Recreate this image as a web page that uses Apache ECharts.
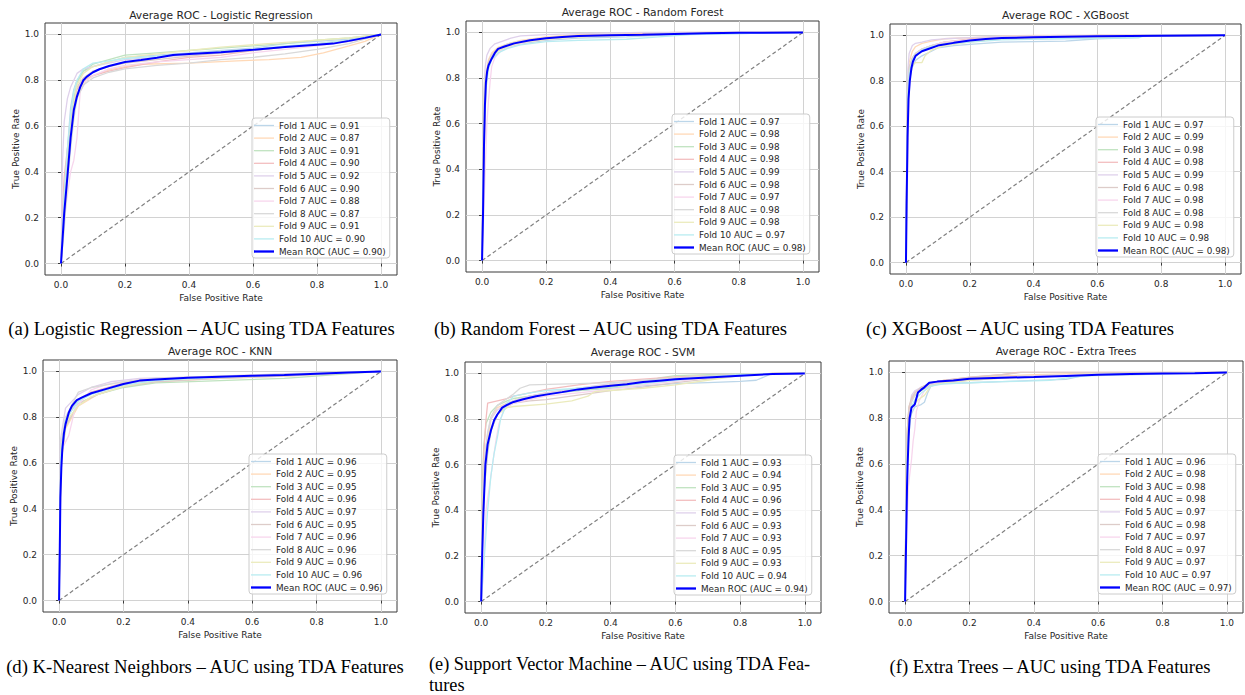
<!DOCTYPE html>
<html><head><meta charset="utf-8">
<script src="https://cdn.jsdelivr.net/npm/echarts@6/dist/echarts.min.js"></script>
<style>html,body{margin:0;padding:0;background:#fff;}#c{width:1245px;height:695px;}</style>
</head><body><div id="c"></div>
<script>
// ---------------- DATA ----------------
const panelTitles = ['Average ROC - Logistic Regression','Average ROC - Random Forest','Average ROC - XGBoost','Average ROC - KNN','Average ROC - SVM','Average ROC - Extra Trees'];
const captions = ['(a) Logistic Regression – AUC using TDA Features','(b) Random Forest – AUC using TDA Features','(c) XGBoost – AUC using TDA Features','(d) K-Nearest Neighbors – AUC using TDA Features','(e) Support Vector Machine – AUC using TDA Fea-','(f) Extra Trees – AUC using TDA Features'];
const captionExtra = 'tures';
const tickValues = [0, 0.2, 0.4, 0.6, 0.8, 1.0];
const xAxisName = 'False Positive Rate';
const yAxisName = 'True Positive Rate';

const lrAuc = [0.91,0.87,0.91,0.90,0.92,0.90,0.88,0.87,0.91,0.90];
const rfAuc = [0.97,0.98,0.98,0.98,0.99,0.98,0.97,0.98,0.98,0.97];
const xgbAuc = [0.97,0.99,0.98,0.98,0.99,0.98,0.98,0.98,0.98,0.98];
const knnAuc = [0.96,0.95,0.95,0.96,0.97,0.95,0.96,0.96,0.96,0.96];
const svmAuc = [0.93,0.94,0.95,0.96,0.95,0.93,0.93,0.95,0.93,0.94];
const etAuc = [0.96,0.98,0.98,0.98,0.97,0.98,0.97,0.97,0.97,0.97];
const meanAuc = [0.90,0.98,0.98,0.96,0.94,0.97];

const lrFolds = [
 [[0,0],[0.005,0.1],[0.01,0.3],[0.02,0.5],[0.03,0.68],[0.04,0.76],[0.05,0.8],[0.07,0.84],[0.1,0.86],[0.15,0.88],[0.2,0.9],[0.3,0.91],[0.4,0.92],[0.5,0.93],[0.6,0.94],[0.7,0.96],[0.8,0.97],[0.9,0.98],[1,1]],
 [[0,0],[0.01,0.2],[0.02,0.4],[0.03,0.55],[0.04,0.68],[0.05,0.74],[0.07,0.79],[0.1,0.82],[0.15,0.845],[0.2,0.86],[0.25,0.87],[0.4,0.875],[0.55,0.885],[0.65,0.89],[0.75,0.9],[0.82,0.92],[0.9,0.95],[0.95,0.97],[1,1]],
 [[0,0],[0.01,0.25],[0.02,0.45],[0.03,0.6],[0.04,0.72],[0.05,0.79],[0.07,0.84],[0.1,0.87],[0.15,0.89],[0.2,0.91],[0.3,0.92],[0.4,0.93],[0.5,0.94],[0.6,0.95],[0.7,0.96],[0.8,0.975],[0.9,0.985],[1,1]],
 [[0,0],[0.005,0.25],[0.01,0.38],[0.02,0.5],[0.03,0.6],[0.04,0.7],[0.05,0.76],[0.07,0.8],[0.1,0.82],[0.15,0.84],[0.2,0.855],[0.3,0.88],[0.4,0.9],[0.5,0.91],[0.6,0.93],[0.7,0.945],[0.8,0.955],[0.9,0.97],[1,1]],
 [[0,0],[0.003,0.3],[0.005,0.45],[0.01,0.62],[0.02,0.72],[0.03,0.77],[0.04,0.8],[0.05,0.83],[0.07,0.85],[0.1,0.86],[0.15,0.875],[0.2,0.89],[0.3,0.9],[0.4,0.91],[0.5,0.92],[0.6,0.935],[0.7,0.945],[0.8,0.955],[0.9,0.97],[1,1]],
 [[0,0],[0.01,0.3],[0.02,0.45],[0.03,0.6],[0.04,0.7],[0.05,0.77],[0.07,0.81],[0.1,0.84],[0.15,0.86],[0.2,0.875],[0.3,0.89],[0.4,0.905],[0.5,0.92],[0.6,0.93],[0.7,0.945],[0.8,0.96],[0.9,0.975],[1,1]],
 [[0,0],[0.01,0.2],[0.02,0.3],[0.03,0.4],[0.04,0.45],[0.05,0.55],[0.055,0.65],[0.06,0.75],[0.08,0.8],[0.1,0.82],[0.15,0.85],[0.2,0.865],[0.3,0.88],[0.4,0.89],[0.5,0.9],[0.6,0.92],[0.7,0.935],[0.8,0.95],[0.9,0.97],[1,1]],
 [[0,0],[0.01,0.15],[0.02,0.35],[0.03,0.5],[0.04,0.63],[0.05,0.72],[0.07,0.78],[0.1,0.81],[0.15,0.835],[0.2,0.85],[0.3,0.865],[0.4,0.875],[0.5,0.89],[0.6,0.9],[0.7,0.915],[0.8,0.935],[0.9,0.96],[1,1]],
 [[0,0],[0.01,0.25],[0.02,0.42],[0.03,0.58],[0.04,0.7],[0.05,0.78],[0.07,0.83],[0.1,0.86],[0.15,0.88],[0.2,0.9],[0.3,0.915],[0.4,0.93],[0.5,0.945],[0.6,0.955],[0.7,0.965],[0.8,0.975],[0.9,0.985],[1,1]],
 [[0,0],[0.01,0.3],[0.02,0.5],[0.03,0.65],[0.04,0.75],[0.05,0.8],[0.07,0.85],[0.1,0.875],[0.15,0.885],[0.2,0.895],[0.3,0.905],[0.4,0.915],[0.5,0.925],[0.6,0.935],[0.7,0.95],[0.8,0.96],[0.9,0.975],[1,1]]
];
const lrMean = [[0,0],[0.01,0.22],[0.02,0.38],[0.03,0.55],[0.04,0.67],[0.05,0.73],[0.06,0.77],[0.07,0.8],[0.08,0.815],[0.1,0.835],[0.12,0.848],[0.15,0.862],[0.2,0.88],[0.25,0.888],[0.3,0.898],[0.35,0.91],[0.4,0.915],[0.5,0.922],[0.6,0.933],[0.7,0.945],[0.8,0.955],[0.85,0.96],[0.9,0.972],[0.95,0.985],[1,1]];

const rfFolds = [
 [[0,0],[0.003,0.3],[0.006,0.6],[0.01,0.75],[0.015,0.83],[0.02,0.87],[0.03,0.9],[0.05,0.92],[0.08,0.935],[0.12,0.95],[0.2,0.965],[0.3,0.975],[0.45,0.98],[0.6,0.99],[0.8,0.995],[1,1]],
 [[0,0],[0.003,0.4],[0.007,0.7],[0.012,0.82],[0.02,0.88],[0.03,0.91],[0.05,0.935],[0.08,0.95],[0.12,0.965],[0.2,0.98],[0.3,0.99],[0.5,0.995],[0.7,1],[1,1]],
 [[0,0],[0.004,0.45],[0.008,0.72],[0.012,0.8],[0.02,0.86],[0.03,0.89],[0.05,0.92],[0.08,0.94],[0.12,0.96],[0.2,0.975],[0.3,0.98],[0.5,0.99],[0.7,0.995],[1,1]],
 [[0,0],[0.005,0.35],[0.008,0.55],[0.012,0.75],[0.02,0.86],[0.03,0.9],[0.05,0.93],[0.08,0.945],[0.12,0.96],[0.2,0.975],[0.3,0.985],[0.5,0.995],[0.6,1],[1,1]],
 [[0,0],[0.003,0.5],[0.006,0.75],[0.01,0.85],[0.015,0.9],[0.025,0.93],[0.04,0.95],[0.06,0.96],[0.09,0.975],[0.12,0.985],[0.2,0.99],[0.3,0.995],[0.5,1],[1,1]],
 [[0,0],[0.004,0.4],[0.008,0.68],[0.012,0.8],[0.02,0.87],[0.03,0.9],[0.05,0.925],[0.08,0.945],[0.12,0.96],[0.2,0.975],[0.3,0.985],[0.5,0.99],[0.7,0.998],[1,1]],
 [[0,0],[0.005,0.2],[0.01,0.4],[0.015,0.6],[0.02,0.7],[0.025,0.78],[0.03,0.85],[0.04,0.89],[0.06,0.92],[0.1,0.945],[0.15,0.96],[0.2,0.97],[0.3,0.98],[0.5,0.99],[0.7,0.995],[1,1]],
 [[0,0],[0.004,0.42],[0.008,0.7],[0.012,0.8],[0.02,0.86],[0.03,0.9],[0.05,0.93],[0.08,0.95],[0.12,0.962],[0.2,0.975],[0.3,0.982],[0.5,0.99],[0.7,0.997],[1,1]],
 [[0,0],[0.004,0.45],[0.007,0.72],[0.01,0.8],[0.02,0.86],[0.03,0.89],[0.05,0.92],[0.08,0.94],[0.12,0.955],[0.2,0.97],[0.3,0.98],[0.5,0.99],[0.7,0.995],[1,1]],
 [[0,0],[0.004,0.35],[0.008,0.62],[0.012,0.75],[0.02,0.84],[0.03,0.88],[0.05,0.91],[0.08,0.93],[0.12,0.945],[0.2,0.96],[0.3,0.965],[0.45,0.97],[0.55,0.98],[0.65,0.99],[0.8,0.995],[1,1]]
];
const rfMean = [[0,0],[0.003,0.2],[0.006,0.5],[0.009,0.68],[0.012,0.78],[0.016,0.83],[0.02,0.855],[0.03,0.885],[0.04,0.91],[0.05,0.928],[0.07,0.938],[0.1,0.952],[0.15,0.966],[0.2,0.974],[0.25,0.98],[0.3,0.984],[0.4,0.988],[0.5,0.99],[0.6,0.993],[0.7,0.996],[0.8,0.998],[1,1]];

const xgbFolds = [
 [[0,0],[0.003,0.4],[0.006,0.7],[0.01,0.8],[0.02,0.86],[0.03,0.89],[0.05,0.91],[0.08,0.93],[0.1,0.945],[0.15,0.955],[0.2,0.96],[0.3,0.97],[0.5,0.975],[0.6,0.985],[0.73,0.99],[0.74,1],[1,1]],
 [[0,0],[0.003,0.5],[0.006,0.8],[0.01,0.88],[0.02,0.93],[0.03,0.95],[0.05,0.965],[0.08,0.975],[0.12,0.985],[0.2,0.99],[0.3,0.997],[0.4,1],[1,1]],
 [[0,0],[0.003,0.4],[0.007,0.72],[0.012,0.83],[0.02,0.88],[0.03,0.91],[0.05,0.935],[0.08,0.95],[0.12,0.965],[0.2,0.975],[0.3,0.985],[0.5,0.99],[0.7,0.995],[1,1]],
 [[0,0],[0.003,0.45],[0.006,0.75],[0.01,0.85],[0.02,0.9],[0.03,0.92],[0.05,0.94],[0.08,0.955],[0.12,0.97],[0.2,0.985],[0.3,0.99],[0.5,0.997],[0.6,1],[1,1]],
 [[0,0],[0.003,0.6],[0.006,0.85],[0.01,0.92],[0.02,0.955],[0.03,0.965],[0.05,0.97],[0.08,0.98],[0.12,0.985],[0.2,0.99],[0.3,0.995],[0.5,1],[1,1]],
 [[0,0],[0.003,0.5],[0.006,0.78],[0.01,0.86],[0.02,0.9],[0.03,0.92],[0.05,0.94],[0.08,0.955],[0.12,0.97],[0.2,0.98],[0.3,0.99],[0.5,0.995],[0.6,1],[1,1]],
 [[0,0],[0.004,0.3],[0.007,0.55],[0.01,0.75],[0.015,0.85],[0.02,0.89],[0.03,0.915],[0.05,0.935],[0.08,0.955],[0.12,0.97],[0.2,0.98],[0.3,0.99],[0.5,0.995],[1,1]],
 [[0,0],[0.003,0.45],[0.006,0.75],[0.01,0.85],[0.02,0.9],[0.03,0.92],[0.05,0.94],[0.08,0.955],[0.12,0.965],[0.2,0.975],[0.3,0.985],[0.5,0.99],[0.7,0.996],[1,1]],
 [[0,0],[0.003,0.4],[0.007,0.7],[0.012,0.82],[0.02,0.87],[0.03,0.88],[0.05,0.88],[0.06,0.91],[0.08,0.935],[0.12,0.955],[0.2,0.97],[0.3,0.985],[0.5,0.99],[0.7,0.996],[1,1]],
 [[0,0],[0.003,0.42],[0.006,0.72],[0.01,0.83],[0.02,0.89],[0.03,0.91],[0.05,0.935],[0.08,0.95],[0.12,0.96],[0.2,0.97],[0.3,0.98],[0.5,0.985],[0.73,0.99],[0.75,1],[1,1]]
];
const xgbMean = [[0,0],[0.002,0.25],[0.005,0.55],[0.008,0.72],[0.012,0.8],[0.017,0.855],[0.022,0.885],[0.03,0.91],[0.04,0.92],[0.05,0.93],[0.07,0.94],[0.1,0.955],[0.15,0.967],[0.2,0.977],[0.25,0.984],[0.3,0.988],[0.4,0.992],[0.5,0.994],[0.6,0.996],[0.8,0.998],[1,1]];

const knnFolds = [
 [[0,0],[0.005,0.62],[0.02,0.78],[0.05,0.86],[0.1,0.91],[0.2,0.945],[0.3,0.965],[0.5,0.975],[0.7,0.985],[1,1]],
 [[0,0],[0.006,0.6],[0.02,0.75],[0.06,0.85],[0.12,0.9],[0.2,0.935],[0.3,0.955],[0.5,0.97],[0.7,0.98],[1,1]],
 [[0,0],[0.005,0.6],[0.02,0.76],[0.06,0.86],[0.12,0.9],[0.2,0.93],[0.3,0.95],[0.5,0.96],[0.7,0.97],[1,1]],
 [[0,0],[0.005,0.64],[0.02,0.79],[0.05,0.87],[0.1,0.91],[0.2,0.95],[0.3,0.965],[0.5,0.975],[0.7,0.985],[1,1]],
 [[0,0],[0.004,0.7],[0.02,0.84],[0.06,0.9],[0.1,0.93],[0.16,0.955],[0.25,0.97],[0.5,0.98],[0.7,0.99],[1,1]],
 [[0,0],[0.006,0.6],[0.02,0.76],[0.06,0.86],[0.12,0.9],[0.2,0.935],[0.3,0.955],[0.5,0.97],[0.7,0.98],[1,1]],
 [[0,0],[0.005,0.65],[0.03,0.72],[0.05,0.84],[0.1,0.92],[0.15,0.945],[0.25,0.965],[0.5,0.98],[0.7,0.985],[1,1]],
 [[0,0],[0.005,0.68],[0.02,0.8],[0.06,0.91],[0.1,0.93],[0.2,0.955],[0.3,0.97],[0.5,0.98],[0.7,0.985],[1,1]],
 [[0,0],[0.006,0.66],[0.02,0.78],[0.06,0.85],[0.1,0.89],[0.2,0.935],[0.3,0.96],[0.5,0.975],[0.7,0.985],[1,1]],
 [[0,0],[0.005,0.64],[0.02,0.79],[0.06,0.87],[0.1,0.9],[0.2,0.94],[0.3,0.96],[0.5,0.975],[0.7,0.985],[1,1]]
];
const knnMean = [[0,0],[0.002,0.2],[0.004,0.45],[0.007,0.58],[0.01,0.66],[0.015,0.73],[0.02,0.77],[0.03,0.82],[0.04,0.85],[0.055,0.875],[0.07,0.886],[0.1,0.905],[0.15,0.925],[0.2,0.945],[0.25,0.96],[0.3,0.965],[0.4,0.973],[0.5,0.977],[0.6,0.981],[0.7,0.985],[0.8,0.99],[0.9,0.995],[1,1]];

const svmFolds = [
 [[0,0],[0.005,0.3],[0.01,0.5],[0.02,0.65],[0.03,0.75],[0.05,0.82],[0.08,0.86],[0.1,0.88],[0.15,0.9],[0.2,0.91],[0.3,0.925],[0.4,0.935],[0.5,0.945],[0.6,0.955],[0.7,0.96],[0.8,0.965],[0.85,0.97],[0.9,1],[1,1]],
 [[0,0],[0.005,0.4],[0.01,0.55],[0.02,0.7],[0.03,0.8],[0.05,0.85],[0.08,0.87],[0.1,0.88],[0.15,0.9],[0.2,0.915],[0.3,0.935],[0.4,0.95],[0.5,0.96],[0.6,0.975],[0.7,0.985],[0.8,0.995],[0.9,1],[1,1]],
 [[0,0],[0.003,0.5],[0.008,0.68],[0.015,0.78],[0.03,0.83],[0.05,0.86],[0.08,0.88],[0.1,0.89],[0.15,0.9],[0.2,0.91],[0.3,0.925],[0.4,0.94],[0.5,0.955],[0.55,0.98],[0.6,0.99],[0.7,0.995],[1,1]],
 [[0,0],[0.003,0.45],[0.008,0.65],[0.015,0.8],[0.02,0.87],[0.05,0.88],[0.08,0.89],[0.1,0.9],[0.15,0.915],[0.2,0.93],[0.3,0.95],[0.4,0.965],[0.5,0.975],[0.6,0.985],[0.7,0.99],[0.8,0.995],[1,1]],
 [[0,0],[0.004,0.45],[0.01,0.62],[0.02,0.74],[0.03,0.8],[0.05,0.84],[0.08,0.87],[0.1,0.88],[0.15,0.9],[0.2,0.915],[0.3,0.935],[0.4,0.955],[0.5,0.965],[0.6,0.975],[0.7,0.985],[0.8,0.995],[1,1]],
 [[0,0],[0.005,0.35],[0.01,0.5],[0.02,0.66],[0.03,0.75],[0.05,0.82],[0.08,0.855],[0.1,0.87],[0.15,0.88],[0.2,0.885],[0.3,0.905],[0.4,0.925],[0.5,0.94],[0.6,0.96],[0.7,0.975],[0.8,0.99],[0.9,1],[1,1]],
 [[0,0],[0.008,0.15],[0.015,0.4],[0.025,0.5],[0.035,0.6],[0.045,0.7],[0.055,0.78],[0.07,0.84],[0.1,0.87],[0.15,0.885],[0.2,0.9],[0.3,0.915],[0.4,0.93],[0.5,0.95],[0.6,0.965],[0.7,0.98],[0.8,0.99],[0.9,1],[1,1]],
 [[0,0],[0.004,0.45],[0.01,0.62],[0.02,0.74],[0.03,0.81],[0.05,0.86],[0.08,0.89],[0.1,0.91],[0.12,0.935],[0.15,0.95],[0.3,0.955],[0.4,0.96],[0.5,0.97],[0.6,0.98],[0.7,0.99],[0.8,0.995],[1,1]],
 [[0,0],[0.004,0.4],[0.01,0.55],[0.02,0.68],[0.03,0.76],[0.05,0.82],[0.08,0.85],[0.1,0.855],[0.2,0.865],[0.28,0.88],[0.33,0.9],[0.35,0.92],[0.5,0.935],[0.6,0.95],[0.7,0.97],[0.8,0.99],[0.9,1],[1,1]],
 [[0,0],[0.01,0.2],[0.02,0.4],[0.03,0.55],[0.04,0.65],[0.05,0.72],[0.06,0.8],[0.08,0.87],[0.1,0.9],[0.15,0.915],[0.2,0.925],[0.3,0.935],[0.4,0.945],[0.5,0.955],[0.6,0.97],[0.7,0.985],[0.8,0.995],[1,1]]
];
const svmMean = [[0,0],[0.003,0.2],[0.007,0.4],[0.01,0.5],[0.013,0.6],[0.02,0.69],[0.03,0.75],[0.04,0.795],[0.05,0.82],[0.065,0.85],[0.08,0.862],[0.1,0.875],[0.13,0.887],[0.17,0.9],[0.2,0.907],[0.25,0.918],[0.3,0.93],[0.35,0.938],[0.4,0.946],[0.45,0.953],[0.5,0.962],[0.55,0.968],[0.6,0.974],[0.7,0.982],[0.8,0.99],[0.9,0.997],[1,1]];

const etFolds = [
 [[0,0],[0.004,0.4],[0.008,0.65],[0.015,0.78],[0.02,0.82],[0.03,0.85],[0.05,0.86],[0.06,0.87],[0.07,0.91],[0.08,0.94],[0.1,0.95],[0.2,0.955],[0.3,0.96],[0.4,0.965],[0.5,0.97],[0.55,0.985],[0.7,0.99],[0.85,0.995],[1,1]],
 [[0,0],[0.003,0.5],[0.007,0.75],[0.012,0.85],[0.02,0.88],[0.03,0.9],[0.05,0.93],[0.08,0.955],[0.12,0.965],[0.2,0.975],[0.3,0.985],[0.4,0.99],[0.6,0.998],[1,1]],
 [[0,0],[0.003,0.55],[0.007,0.75],[0.012,0.84],[0.02,0.88],[0.03,0.9],[0.05,0.92],[0.08,0.945],[0.12,0.96],[0.2,0.97],[0.3,0.98],[0.5,0.99],[0.7,0.995],[1,1]],
 [[0,0],[0.003,0.5],[0.007,0.74],[0.012,0.84],[0.02,0.88],[0.03,0.91],[0.05,0.935],[0.08,0.955],[0.12,0.965],[0.2,0.98],[0.3,0.99],[0.35,1],[1,1]],
 [[0,0],[0.003,0.45],[0.008,0.7],[0.015,0.83],[0.02,0.9],[0.03,0.92],[0.05,0.935],[0.08,0.95],[0.12,0.96],[0.2,0.97],[0.3,0.978],[0.5,0.985],[0.7,0.995],[1,1]],
 [[0,0],[0.003,0.5],[0.007,0.75],[0.012,0.85],[0.02,0.89],[0.03,0.91],[0.05,0.935],[0.08,0.955],[0.12,0.965],[0.2,0.978],[0.3,0.99],[0.36,1],[1,1]],
 [[0,0],[0.005,0.3],[0.01,0.5],[0.02,0.62],[0.025,0.7],[0.03,0.75],[0.035,0.83],[0.045,0.88],[0.06,0.92],[0.08,0.945],[0.12,0.96],[0.2,0.97],[0.3,0.98],[0.5,0.99],[0.7,0.995],[1,1]],
 [[0,0],[0.003,0.45],[0.008,0.7],[0.015,0.82],[0.02,0.87],[0.03,0.9],[0.05,0.925],[0.08,0.945],[0.12,0.955],[0.2,0.965],[0.3,0.975],[0.5,0.985],[0.7,0.995],[1,1]],
 [[0,0],[0.004,0.42],[0.008,0.68],[0.015,0.8],[0.02,0.85],[0.04,0.88],[0.06,0.9],[0.08,0.94],[0.12,0.955],[0.2,0.965],[0.3,0.975],[0.5,0.985],[0.7,0.995],[1,1]],
 [[0,0],[0.004,0.42],[0.008,0.68],[0.015,0.8],[0.02,0.85],[0.03,0.88],[0.05,0.91],[0.08,0.94],[0.12,0.95],[0.2,0.955],[0.3,0.96],[0.45,0.965],[0.52,0.98],[0.6,0.99],[0.8,0.995],[1,1]]
];
const etMean = [[0,0],[0.003,0.25],[0.006,0.5],[0.008,0.6],[0.011,0.72],[0.014,0.8],[0.02,0.847],[0.03,0.86],[0.04,0.913],[0.05,0.925],[0.06,0.935],[0.075,0.955],[0.1,0.96],[0.15,0.965],[0.2,0.972],[0.3,0.977],[0.4,0.98],[0.5,0.985],[0.6,0.99],[0.7,0.993],[0.8,0.995],[0.9,0.997],[1,1]];

const chanceLine = [[0,0],[1,1]];

// ---------------- STYLE / LAYOUT ----------------
const FONT = '"DejaVu Sans", sans-serif';
const SERIF = '"Liberation Serif", "DejaVu Serif", serif';
// tab10 colours at alpha 0.3 over white
const foldColors = ['#bcd6e9','#ffd9b7','#c0e3c0','#f3bebf','#dfd1eb','#ddccc9','#f7d6ed','#d9d9d9','#ebebbd','#b9ecf1'];
const thinIcon = 'path://M0,0L40,0L40,2.6L0,2.6Z';
const thickIcon = 'path://M0,0L40,0L40,4.6L0,4.6Z';
const panels = [
  {folds: lrFolds, mean: lrMean, auc: lrAuc},
  {folds: rfFolds, mean: rfMean, auc: rfAuc},
  {folds: xgbFolds, mean: xgbMean, auc: xgbAuc},
  {folds: knnFolds, mean: knnMean, auc: knnAuc},
  {folds: svmFolds, mean: svmMean, auc: svmAuc},
  {folds: etFolds, mean: etMean, auc: etAuc}
];
const layout = [
  {grid:[45,23,352,252], legend:[252,118], title:[221,15], cap:[201.5,328,'center']},
  {grid:[466,21,353,251], legend:[672,114], title:[642.5,12.5], cap:[610.5,328,'center']},
  {grid:[890,24,351,250], legend:[1096,117], title:[1065.5,15], cap:[1020,328,'center']},
  {grid:[43,360,354,252], legend:[249,454], title:[220,351], cap:[205,666,'center']},
  {grid:[465,362,356,251], legend:[674,455], title:[643,352.5], cap:[429,664,'left']},
  {grid:[889,361,354,252], legend:[1098,454], title:[1066,351.5], cap:[1050,666,'center']}
];

const grids = [], xAxes = [], yAxes = [], legends = [], series = [], graphics = [];
panels.forEach((p, i) => {
  const L = layout[i];
  grids.push({left:L.grid[0], top:L.grid[1], width:L.grid[2], height:L.grid[3], show:true,
    borderColor:'#3a3a3a', borderWidth:1, backgroundColor:'rgba(0,0,0,0)', containLabel:false, outerBoundsMode:'none'});
  const axisCommon = (name, gap, margin) => ({
    type:'value', gridIndex:i, min:-0.05, max:1.05,
    axisLine:{show:false},
    axisTick:{show:true, inside:false, length:3, lineStyle:{color:'#3a3a3a', width:1}, customValues:tickValues},
    axisLabel:{customValues:tickValues, formatter:v => Number(v).toFixed(1), fontSize:9, color:'#262626', fontFamily:FONT, margin:margin},
    splitLine:{show:true, lineStyle:{color:'#d2d2d2', width:1}},
    name:name, nameLocation:'middle', nameGap:gap,
    nameTextStyle:{fontSize:9, color:'#262626', fontFamily:FONT}
  });
  xAxes.push(axisCommon(xAxisName, 18, 5));
  yAxes.push(axisCommon(yAxisName, 24, 6));
  const legendData = [];
  p.folds.forEach((d, k) => {
    const nm = 'Fold ' + (k + 1) + ' AUC = ' + p.auc[k].toFixed(2);
    legendData.push({name:nm, icon:thinIcon});
    series.push({type:'line', name:nm, xAxisIndex:i, yAxisIndex:i, data:d, showSymbol:false, symbol:'none',
      color:foldColors[k], lineStyle:{color:foldColors[k], width:1.3}, itemStyle:{color:foldColors[k]},
      animation:false, silent:true, z:2});
  });
  const mname = 'Mean ROC (AUC = ' + meanAuc[i].toFixed(2) + ')';
  legendData.push({name:mname, icon:thickIcon});
  series.push({type:'line', name:'chance-' + i, xAxisIndex:i, yAxisIndex:i, data:chanceLine, showSymbol:false, symbol:'none',
    color:'#808080', lineStyle:{color:'#808080', width:1.2, type:[4,2.6]}, animation:false, silent:true, z:3});
  series.push({type:'line', name:mname, xAxisIndex:i, yAxisIndex:i, data:p.mean, showSymbol:false, symbol:'none',
    color:'#0000ff', lineStyle:{color:'#0000ff', width:2}, itemStyle:{color:'#0000ff'}, animation:false, silent:true, z:4});
  legends.push({orient:'vertical', left:L.legend[0], top:L.legend[1], data:legendData, selectedMode:false,
    itemWidth:20, itemHeight:10, itemGap:3.6, padding:[3,4,2,2], symbolKeepAspect:true,
    backgroundColor:'rgba(255,255,255,0.8)', borderColor:'#cccccc', borderWidth:1, borderRadius:3,
    textStyle:{fontSize:8.8, color:'#262626', fontFamily:FONT}});
  graphics.push({type:'text', x:L.title[0], y:L.title[1], silent:true,
    style:{text:panelTitles[i], fill:'#262626', fontSize:10.7, fontFamily:FONT, align:'center', verticalAlign:'middle'}});
  graphics.push({type:'text', x:L.cap[0], y:L.cap[1], silent:true,
    style:{text:captions[i], fill:'#000', fontSize:(i === 4 ? 18.3 : 18.7), fontFamily:SERIF, align:L.cap[2], verticalAlign:'middle'}});
});
graphics.push({type:'text', x:429, y:685, silent:true,
  style:{text:captionExtra, fill:'#000', fontSize:18.3, fontFamily:SERIF, align:'left', verticalAlign:'middle'}});

const chart = echarts.init(document.getElementById('c'), null, {renderer:'svg', width:1245, height:695});
chart.setOption({
  backgroundColor:'#ffffff',
  animation:false,
  textStyle:{fontFamily:FONT},
  grid:grids, xAxis:xAxes, yAxis:yAxes, legend:legends, series:series, graphic:graphics
});
</script></body></html>
